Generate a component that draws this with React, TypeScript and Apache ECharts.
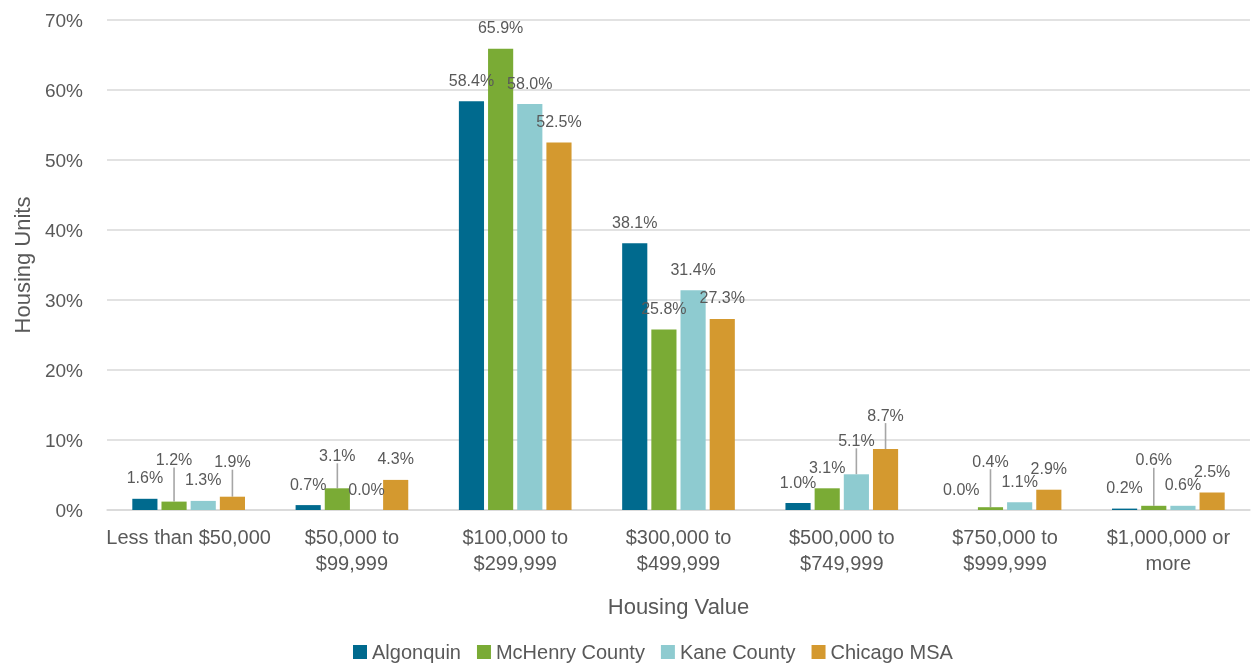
import React, { useEffect, useRef } from "react";
import * as echarts from "echarts";

const categories = [
  "Less than $50,000",
  "$50,000 to\n$99,999",
  "$100,000 to\n$299,999",
  "$300,000 to\n$499,999",
  "$500,000 to\n$749,999",
  "$750,000 to\n$999,999",
  "$1,000,000 or\nmore",
];
const seriesNames = ["Algonquin", "McHenry County", "Kane County", "Chicago MSA"];
const algonquin = [1.6, 0.7, 58.4, 38.1, 1.0, 0.0, 0.2];
const mchenry = [1.2, 3.1, 65.9, 25.8, 3.1, 0.4, 0.6];
const kane = [1.3, 0.0, 58.0, 31.4, 5.1, 1.1, 0.6];
const chicago = [1.9, 4.3, 52.5, 27.3, 8.7, 2.9, 2.5];
const yTicks = [0, 10, 20, 30, 40, 50, 60, 70];

const colors = ["#006A8E", "#7AAB35", "#8ECBD0", "#D4992F"];
// label lifts (px) for labels drawn with leader lines, per series / category
const lifts: Record<number, Record<number, number>> = {
  1: { 0: 21, 1: 12, 5: 25, 6: 25 },
  2: { 4: 13 },
  3: { 0: 14, 4: 13 },
};

const FONT = "'Liberation Sans', Arial, sans-serif";
const TXT = "#595959";

export default function App() {
  const ref = useRef<HTMLDivElement>(null);
  useEffect(() => {
    if (!ref.current) return;
    document.body.style.margin = "0";
    document.body.style.overflow = "hidden";
    const chart = echarts.init(ref.current, undefined, { renderer: "svg" });
    const all = [algonquin, mchenry, kane, chicago];
    const guide = { show: true, lineStyle: { color: "#A6A6A6", width: 1.6 } };
    const series = all.map((vals, si) => ({
      name: seriesNames[si],
      type: "bar",
      barGap: "16%",
      barCategoryGap: "31%",
      itemStyle: { color: colors[si] },
      label: {
        show: true,
        position: "top",
        distance: 13,
        formatter: (p: any) => `${Number(p.value).toFixed(1)}%`,
        fontFamily: FONT,
        fontSize: 16,
        color: TXT,
      },
      labelLine: { show: false, lineStyle: { color: "#A6A6A6", width: 1.6 } },
      labelLayout: (p: any) => {
        const d = lifts[p.seriesIndex]?.[p.dataIndex];
        return d ? { dy: -d } : {};
      },
      data: vals.map((v, di) => {
        const d = lifts[si]?.[di];
        return d ? { value: v, labelLine: guide } : { value: v };
      }),
    }));
    chart.setOption({
      animation: false,
      textStyle: { fontFamily: FONT },
      grid: { left: 107, right: 2, top: 20, bottom: 155 },
      legend: {
        top: 637,
        left: 348,
        itemWidth: 14,
        itemHeight: 14,
        itemGap: 16,
        icon: "rect",
        textStyle: { fontFamily: FONT, fontSize: 20, color: TXT },
        data: seriesNames,
      },
      xAxis: {
        type: "category",
        data: categories,
        name: "Housing Value",
        nameLocation: "middle",
        nameGap: 85,
        nameTextStyle: { fontFamily: FONT, fontSize: 22, color: TXT },
        axisLine: { lineStyle: { color: "#D9D9D9", width: 1.5 } },
        axisTick: { show: false },
        axisLabel: {
          interval: 0,
          margin: 14,
          fontFamily: FONT,
          fontSize: 20,
          lineHeight: 26,
          color: TXT,
        },
      },
      yAxis: {
        type: "value",
        min: yTicks[0],
        max: yTicks[yTicks.length - 1],
        interval: 10,
        name: "Housing Units",
        nameLocation: "middle",
        nameGap: 74,
        nameRotate: 90,
        nameTextStyle: { fontFamily: FONT, fontSize: 22, color: TXT },
        axisLine: { show: false },
        axisTick: { show: false },
        splitLine: { lineStyle: { color: "#D9D9D9", width: 1.5 } },
        axisLabel: {
          margin: 24,
          fontFamily: FONT,
          fontSize: 19,
          color: TXT,
          formatter: (v: number) => `${v}%`,
        },
      },
      series,
    });
    return () => chart.dispose();
  }, []);
  return (
    <div
      ref={ref}
      style={{ position: "fixed", left: 0, top: 0, width: 1252, height: 665 }}
    />
  );
}
